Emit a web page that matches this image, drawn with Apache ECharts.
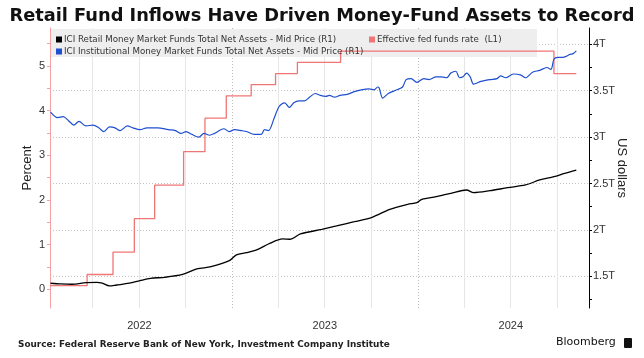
<!DOCTYPE html>
<html><head><meta charset="utf-8">
<script src="https://cdn.jsdelivr.net/npm/echarts@6/dist/echarts.min.js"></script>
<style>html,body{margin:0;padding:0;background:#fff}#c{width:644px;height:358px}</style>
</head><body><div id="c"></div>
<script>
const titleText = 'Retail Fund Inflows Have Driven Money-Fund Assets to Record';
const sourceText = 'Source: Federal Reserve Bank of New York, Investment Company Institute';
const brandText = 'Bloomberg';
const retailName = 'ICI Retail Money Market Funds Total Net Assets - Mid Price (R1)';
const instName = 'ICI Institutional Money Market Funds Total Net Assets - Mid Price (R1)';
const fedName = 'Effective fed funds rate  (L1)';

// Effective fed funds rate, percent (left axis) - value in effect from each date
const fedDates = ['2022-01-07','2022-03-21','2022-05-11','2022-06-22','2022-08-01','2022-09-27','2022-11-08','2022-12-20','2023-02-07','2023-03-27','2023-05-09','2023-08-02','2024-09-25','2024-11-08'];
const fedRates = [0.08,0.33,0.83,1.58,2.33,3.08,3.83,4.33,4.58,4.83,5.08,5.33,4.83,4.83];

// ICI retail MMF assets, trillions USD (right axis)
const retailDates = ['2022-01-08','2022-01-29','2022-02-19','2022-03-19','2022-04-09','2022-04-20','2022-05-04','2022-05-18','2022-06-12','2022-07-03','2022-07-24','2022-08-21','2022-09-25','2022-10-23','2022-11-20','2022-12-26','2023-01-09','2023-01-29','2023-02-20','2023-03-13','2023-04-10','2023-04-24','2023-05-15','2023-06-26','2023-07-25','2023-08-29','2023-10-03','2023-11-07','2023-12-12','2023-12-30','2024-01-09','2024-02-06','2024-03-06','2024-04-06','2024-04-20','2024-05-22','2024-06-26','2024-07-31','2024-08-28','2024-09-25','2024-10-16','2024-11-08'];
const retailValues = [1.425,1.417,1.414,1.431,1.435,1.425,1.396,1.406,1.425,1.453,1.478,1.489,1.52,1.579,1.603,1.668,1.73,1.754,1.79,1.848,1.902,1.899,1.956,2.006,2.042,2.088,2.136,2.222,2.276,2.293,2.33,2.358,2.394,2.43,2.401,2.422,2.455,2.484,2.538,2.573,2.61,2.645];

// ICI institutional MMF assets, trillions USD (right axis)
const instDates = ['2022-01-08','2022-01-22','2022-02-02','2022-02-12','2022-02-23','2022-03-05','2022-03-19','2022-04-02','2022-04-13','2022-04-23','2022-05-04','2022-05-15','2022-05-25','2022-06-08','2022-06-19','2022-07-03','2022-07-17','2022-08-07','2022-08-28','2022-09-11','2022-09-22','2022-10-02','2022-10-13','2022-10-27','2022-11-06','2022-11-17','2022-11-27','2022-12-15','2022-12-26','2023-01-05','2023-01-19','2023-01-29','2023-02-13','2023-02-27','2023-03-05','2023-03-13','2023-03-24','2023-04-03','2023-04-14','2023-04-23','2023-05-02','2023-05-12','2023-05-23','2023-06-02','2023-06-13','2023-06-23','2023-07-04','2023-07-11','2023-07-21','2023-08-01','2023-08-15','2023-08-29','2023-09-12','2023-09-27','2023-10-07','2023-10-14','2023-10-17','2023-10-24','2023-11-04','2023-11-21','2023-12-02','2023-12-09','2023-12-19','2023-12-30','2024-01-13','2024-01-23','2024-02-06','2024-02-17','2024-02-27','2024-03-06','2024-03-16','2024-03-23','2024-03-30','2024-04-06','2024-04-13','2024-04-20','2024-05-04','2024-05-22','2024-06-05','2024-06-12','2024-06-22','2024-07-07','2024-07-21','2024-07-31','2024-08-14','2024-08-28','2024-09-11','2024-09-19','2024-09-25','2024-10-02','2024-10-12','2024-10-19','2024-10-26','2024-11-02','2024-11-08'];
const instValues = [3.27,3.21,3.22,3.18,3.13,3.17,3.12,3.13,3.10,3.06,3.11,3.10,3.07,3.12,3.10,3.08,3.10,3.10,3.08,3.07,3.04,3.06,3.03,3.00,3.04,3.02,3.04,3.09,3.06,3.08,3.07,3.06,3.03,3.03,3.08,3.07,3.20,3.33,3.37,3.32,3.37,3.39,3.39,3.43,3.47,3.45,3.44,3.45,3.43,3.45,3.46,3.49,3.51,3.52,3.51,3.54,3.53,3.42,3.47,3.51,3.54,3.62,3.63,3.59,3.63,3.62,3.65,3.65,3.64,3.69,3.71,3.64,3.65,3.69,3.65,3.57,3.60,3.62,3.63,3.66,3.64,3.68,3.67,3.64,3.70,3.72,3.75,3.73,3.84,3.86,3.86,3.87,3.89,3.90,3.93];

const xStart = '2022-01-07';
const xEnd = '2024-12-03';
const yearLabelDates = ['2022-07-02','2023-07-02','2024-07-02'];
const quarterLines = ['2022-04-01','2022-07-01','2022-10-01','2023-04-01','2023-07-01','2023-10-01','2024-04-01','2024-07-01','2024-10-01'];
const yearLines = ['2023-01-01','2024-01-01'];

const leftMin = -0.42, leftMax = 5.85;
const leftLabels = [0,1,2,3,4,5];
const leftTicks = [0,0.5,1,1.5,2,2.5,3,3.5,4,4.5,5,5.5];
const rightMin = 1.158, rightMax = 4.176;
const rightLabels = [1.5,2,2.5,3,3.5,4];
const rightTicks = [1.25,1.5,1.75,2,2.25,2.5,2.75,3,3.25,3.5,3.75,4];

const t = s => Date.parse(s + 'T00:00:00Z');
const pairs = (d, v) => d.map((s, i) => [t(s), v[i]]);

const PINK = '#f07575', BLUE = '#1f4fcf', BLACK = '#000000';
const FONT = 'Liberation Sans';
const DV = 'DejaVu Sans';

const gridMarks = [];
rightLabels.forEach(v => gridMarks.push({yAxis: v, lineStyle: {color: '#c4c4c4', type: [1, 2], width: 1}}));
quarterLines.forEach(d => gridMarks.push({xAxis: t(d), lineStyle: {color: '#e6e6e6', type: 'solid', width: 1}}));
yearLines.forEach(d => gridMarks.push({xAxis: t(d), lineStyle: {color: '#bdbdbd', type: [1, 2], width: 1}}));

const chart = echarts.init(document.getElementById('c'), null, {renderer: 'canvas'});
chart.setOption({
  animation: false,
  backgroundColor: '#ffffff',
  textStyle: {fontFamily: FONT},
  title: [
    {text: titleText, left: 'center', top: 7, padding: 0,
     textStyle: {fontSize: 17.8, fontWeight: 'bold', color: '#111', fontFamily: DV}},
    {text: sourceText, left: 18, top: 340, padding: 0,
     textStyle: {fontSize: 8.9, fontWeight: 'bold', color: '#222', fontFamily: DV}},
    {text: brandText, left: 556, top: 337, padding: 0,
     textStyle: {fontSize: 11, fontWeight: 'normal', color: '#111', fontFamily: DV}}
  ],
  graphic: [
    {type: 'rect', z: 1, shape: {x: 51, y: 29, width: 486, height: 28}, style: {fill: '#eeeeee'}, silent: true},
    {type: 'rect', z: 1, shape: {x: 624, y: 338, width: 8, height: 10, r: 1}, style: {fill: '#111'}, silent: true}
  ],
  legend: [
    {data: [retailName, instName], orient: 'vertical', left: 56, top: 35, padding: 0,
     itemWidth: 6, itemHeight: 6, itemGap: 3, icon: 'rect', z: 5,
     textStyle: {fontSize: 8.7, color: '#333', fontFamily: DV, padding: [0, 0, 0, -3]}},
    {data: [fedName], orient: 'vertical', left: 369, top: 35, padding: 0,
     itemWidth: 6, itemHeight: 6, itemGap: 3, icon: 'rect', z: 5,
     textStyle: {fontSize: 8.7, color: '#333', fontFamily: DV, padding: [0, 0, 0, -3]}}
  ],
  grid: {left: 50, right: 55, top: 28, bottom: 50, containLabel: false},
  xAxis: {
    type: 'value', min: t(xStart), max: t(xEnd),
    axisLine: {show: false}, axisTick: {show: false}, splitLine: {show: false},
    axisLabel: {customValues: yearLabelDates.map(t), margin: 12, fontSize: 11, color: '#333',
      formatter: v => String(new Date(v).getUTCFullYear())}
  },
  yAxis: [
    {type: 'value', position: 'left', min: leftMin, max: leftMax,
     name: 'Percent', nameLocation: 'middle', nameRotate: 90, nameGap: 16, nameMoveOverlap: false,
     nameTextStyle: {fontSize: 13, color: '#222'},
     axisLine: {show: true, lineStyle: {color: '#f3a3a3', width: 1}},
     axisTick: {show: true, length: 3, customValues: leftTicks, lineStyle: {color: '#f3a3a3'}},
     axisLabel: {customValues: leftLabels, margin: 5, fontSize: 11, color: '#333'},
     splitLine: {show: false}},
    {type: 'value', position: 'right', min: rightMin, max: rightMax,
     name: 'US dollars', nameLocation: 'middle', nameRotate: -90, nameGap: 26, nameMoveOverlap: false,
     nameTextStyle: {fontSize: 13, color: '#222'},
     axisLine: {show: true, lineStyle: {color: '#000', width: 1}},
     axisTick: {show: true, length: 3, customValues: rightTicks, lineStyle: {color: '#000'}},
     axisLabel: {customValues: rightLabels, margin: 4, fontSize: 11, color: '#333',
       formatter: v => v + 'T'},
     splitLine: {show: false}}
  ],
  series: [
    {name: 'grid', type: 'line', yAxisIndex: 1, data: [], z: 0, silent: true,
     markLine: {z: 0, silent: true, symbol: ['none', 'none'], label: {show: false}, animation: false, data: gridMarks}},
    {name: fedName, type: 'line', yAxisIndex: 0, step: 'end', data: pairs(fedDates, fedRates),
     showSymbol: false, color: PINK, lineStyle: {width: 1.3, color: PINK}, z: 2},
    {name: retailName, type: 'line', yAxisIndex: 1, smooth: 0.3, data: pairs(retailDates, retailValues),
     showSymbol: false, color: BLACK, lineStyle: {width: 1.3, color: BLACK}, z: 2},
    {name: instName, type: 'line', yAxisIndex: 1, smooth: 0.3, data: pairs(instDates, instValues),
     showSymbol: false, color: BLUE, lineStyle: {width: 1.2, color: BLUE}, z: 2}
  ]
});
</script></body></html>
